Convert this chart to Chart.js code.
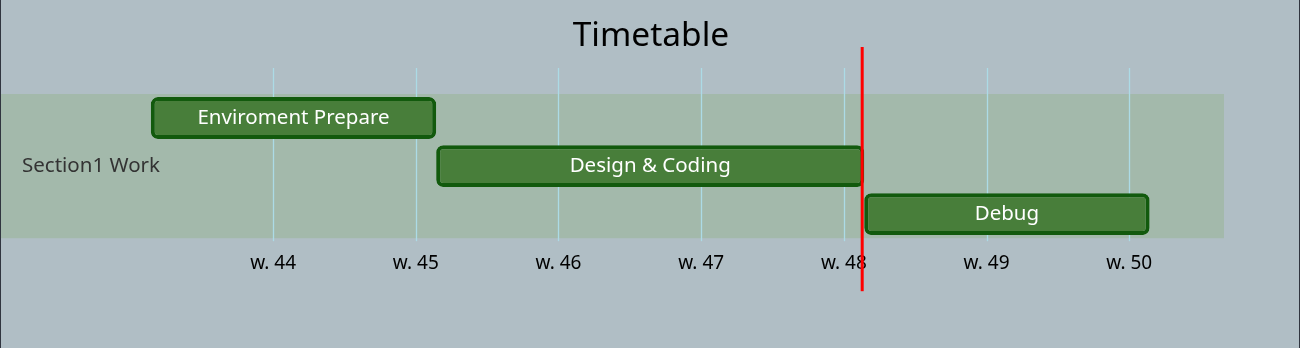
<!DOCTYPE html>
<html>
<head>
<meta charset="utf-8">
<script src="https://cdn.jsdelivr.net/npm/chart.js@4"></script>
<style>
    body { margin: 0; background: #b0bec5; }
    #wrap {
        width: 1298px; height: 348px;
        border-left: 1px solid #30353f; border-right: 1px solid #30353f;
    }
</style>
</head>
<body>
<div id="wrap"><canvas id="timetable"></canvas></div>
<script>
// tasks, in days from the start of week 44
const taskNames = ["Enviroment Prepare", "Design & Coding", "Debug"];
const taskStart = [-6, 8, 29];
const taskEnd = [8, 29, 43];

const weekTicks = [0, 7, 14, 21, 28, 35, 42];
const weekLabels = ["w. 44", "w. 45", "w. 46", "w. 47", "w. 48", "w. 49", "w. 50"];

const chartTitle = "Timetable";
const sectionName = "Section1 Work";
const todayMark = 28.9;
const dayMin = -13.35;
const dayMax = 46.65;

const lettertype = '"Noto Sans", "Open Sans", sans-serif';

// title centred on the whole page, not on the plot area
const paginaTitel = {
    id: 'paginaTitel',
    afterDraw(chart) {
        const { ctx } = chart;
        ctx.save();
        ctx.fillStyle = '#000000';
        ctx.font = '33.5px ' + lettertype;
        ctx.textAlign = 'center';
        ctx.textBaseline = 'middle';
        ctx.fillText(chartTitle, chart.width / 2 + 1, 36);
        ctx.restore();
    }
};

const sectieBand = {
    id: 'sectieBand',
    beforeDatasetsDraw(chart) {
        const { ctx, chartArea, scales } = chart;
        ctx.save();
        ctx.fillStyle = '#a3b9ab';
        ctx.fillRect(chartArea.left, chartArea.top, chartArea.right - chartArea.left, chartArea.bottom - chartArea.top);

        // week lines stick out above and below the band
        ctx.strokeStyle = '#acdbe6';
        ctx.lineWidth = 1.3;
        scales.x.ticks.forEach(t => {
            const px = Math.round(scales.x.getPixelForValue(t.value)) + 0.5;
            ctx.beginPath();
            ctx.moveTo(px, chartArea.top - 26);
            ctx.lineTo(px, chartArea.bottom + 3);
            ctx.stroke();
        });

        ctx.fillStyle = '#333333';
        ctx.font = '20.5px ' + lettertype;
        ctx.textBaseline = 'middle';
        ctx.fillText(sectionName, chartArea.left + 21, (chartArea.top + chartArea.bottom) / 2);
        ctx.restore();
    }
};

const taakTekst = {
    id: 'taakTekst',
    afterDatasetsDraw(chart) {
        const { ctx } = chart;
        const meta = chart.getDatasetMeta(0);
        ctx.save();
        ctx.fillStyle = '#ffffff';
        ctx.font = '20.5px ' + lettertype;
        ctx.textAlign = 'center';
        ctx.textBaseline = 'middle';
        meta.data.forEach((bar, i) => {
            ctx.fillText(taskNames[i], (bar.x + bar.base) / 2, bar.y);
        });
        ctx.restore();
    }
};

const vandaagLijn = {
    id: 'vandaagLijn',
    afterDraw(chart) {
        const { ctx, chartArea, scales } = chart;
        const px = scales.x.getPixelForValue(todayMark);
        ctx.save();
        ctx.strokeStyle = '#ff0000';
        ctx.lineWidth = 3;
        ctx.beginPath();
        ctx.moveTo(px, chartArea.top - 47);
        ctx.lineTo(px, chartArea.bottom + 53);
        ctx.stroke();
        ctx.restore();
    }
};

new Chart(document.getElementById('timetable'), {
    type: 'bar',
    data: {
        labels: taskNames,
        datasets: [{
            data: taskNames.map((n, i) => [taskStart[i], taskEnd[i]]),
            backgroundColor: '#487e3a',
            borderColor: '#125a0d',
            borderWidth: 4,
            borderRadius: 7,
            borderSkipped: false,
            barPercentage: 0.87,
            categoryPercentage: 1
        }]
    },
    options: {
        indexAxis: 'y',
        responsive: true,
        maintainAspectRatio: false,
        animation: false,
        layout: { padding: { left: 0, right: 75, top: 94, bottom: 59 } },
        plugins: {
            legend: { display: false },
            tooltip: { enabled: false },
            title: { display: false }
        },
        scales: {
            x: {
                type: 'linear',
                min: dayMin,
                max: dayMax,
                afterBuildTicks: scale => {
                    scale.ticks = weekTicks.map(v => ({ value: v }));
                },
                grid: { display: false, drawTicks: false },
                border: { display: false },
                ticks: {
                    color: '#000000',
                    font: { family: lettertype, size: 19 },
                    padding: 14,
                    autoSkip: false,
                    maxRotation: 0,
                    callback: (value, index) => weekLabels[index]
                }
            },
            y: {
                type: 'category',
                display: false,
                offset: true
            }
        }
    },
    plugins: [sectieBand, taakTekst, vandaagLijn, paginaTitel]
});
</script>
</body>
</html>
